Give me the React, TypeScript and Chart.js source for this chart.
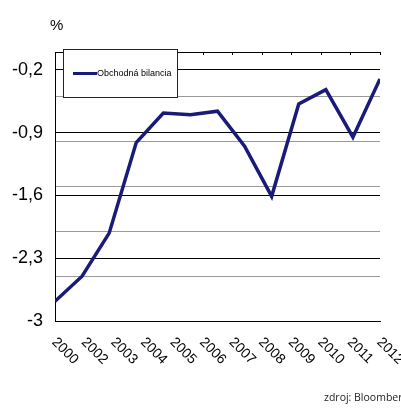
import React, { useEffect, useRef } from 'react';
import { Chart, registerables } from 'chart.js';

Chart.register(...registerables);

// ---- data ----
const dataYears = [2000, 2001, 2002, 2003, 2004, 2005, 2006, 2007, 2008, 2009, 2010, 2011, 2012];
const balance = [-2.78, -2.5, -2.02, -1.01, -0.68, -0.7, -0.66, -1.05, -1.61, -0.58, -0.42, -0.95, -0.3];
const xLabels = ['2000', '2002', '2003', '2004', '2005', '2006', '2007', '2008', '2009', '2010', '2011', '2012'];
const yTicks = [-3, -2.3, -1.6, -0.9, -0.2];
const yMin = -3;
const yMax = 0;
const minorStep = 0.5;
const seriesLabel = 'Obchodná bilancia';
const unitLabel = '%';
const sourceLabel = 'zdroj: Bloomberg';

const LINE_COLOR = '#1a1a78';
const FONT = '"Liberation Sans", Arial, sans-serif';

const decor = {
  id: 'decor',
  afterDraw(chart: any) {
    const { ctx, chartArea } = chart;
    const xs = chart.scales.x;
    ctx.save();
    // inward tick marks on top border
    ctx.strokeStyle = '#000';
    ctx.lineWidth = 1;
    xLabels.forEach((_, i) => {
      const px = Math.round(xs.getPixelForTick(i)) + 0.5;
      ctx.beginPath();
      ctx.moveTo(px, chartArea.top);
      ctx.lineTo(px, chartArea.top + 3);
      ctx.stroke();
    });
    // rotated x labels (reading down-right)
    ctx.fillStyle = '#000';
    ctx.font = '14px ' + FONT;
    ctx.textAlign = 'left';
    ctx.textBaseline = 'middle';
    xLabels.forEach((lab, i) => {
      const px = xs.getPixelForTick(i);
      ctx.save();
      ctx.translate(px - 1, chartArea.bottom + 19);
      ctx.rotate(Math.PI / 4);
      ctx.fillText(lab, 0, 0);
      ctx.restore();
    });
    // unit label
    ctx.font = '15px ' + FONT;
    ctx.textBaseline = 'alphabetic';
    ctx.fillText(unitLabel, chartArea.left - 5, chartArea.top - 22);
    // legend box
    const lx = chartArea.left + 8;
    const ly = chartArea.top - 3;
    const lw = 114;
    const lh = 48;
    ctx.fillStyle = '#fff';
    ctx.fillRect(lx, ly, lw, lh);
    ctx.strokeStyle = '#222';
    ctx.lineWidth = 1;
    ctx.strokeRect(Math.round(lx) + 0.5, Math.round(ly) + 0.5, lw, lh);
    const my = ly + 24.5;
    ctx.strokeStyle = LINE_COLOR;
    ctx.lineWidth = 3;
    ctx.beginPath();
    ctx.moveTo(lx + 10, my);
    ctx.lineTo(lx + 34, my);
    ctx.stroke();
    ctx.fillStyle = '#000';
    ctx.font = '9px ' + FONT;
    ctx.textBaseline = 'middle';
    ctx.fillText(seriesLabel, lx + 34, my);
    // source
    ctx.fillStyle = '#222';
    ctx.font = '10.5px "Open Sans", sans-serif';
    ctx.textBaseline = 'alphabetic';
    ctx.fillText(sourceLabel, 324, 401);
    ctx.restore();
  },
};

export default function App() {
  const ref = useRef<HTMLCanvasElement | null>(null);
  useEffect(() => {
    document.body.style.margin = '0';
    const canvas = ref.current;
    if (!canvas) return;
    const chart = new Chart(canvas, {
      type: 'line',
      data: {
        datasets: [
          {
            label: seriesLabel,
            data: dataYears.map((yr, i) => ({ x: yr, y: balance[i] })),
            xAxisID: 'xd',
            yAxisID: 'y',
            borderColor: LINE_COLOR,
            backgroundColor: LINE_COLOR,
            borderWidth: 3.5,
            pointRadius: 0,
            tension: 0,
            fill: false,
          },
        ],
      },
      options: {
        responsive: false,
        animation: false,
        devicePixelRatio: 1,
        layout: { padding: { left: 0, right: 21, top: 0, bottom: 0 } },
        plugins: {
          legend: { display: false },
          tooltip: { enabled: false },
          title: { display: false },
        },
        scales: {
          xd: {
            type: 'linear',
            display: false,
            min: dataYears[0],
            max: dataYears[dataYears.length - 1],
          },
          x: {
            type: 'category',
            labels: xLabels,
            position: 'bottom',
            offset: false,
            grid: { display: false, drawTicks: false },
            border: { display: true, color: '#000', width: 1 },
            ticks: { display: false },
            afterFit: (s: any) => {
              s.height = 87;
            },
          },
          xTop: {
            type: 'category',
            labels: xLabels,
            position: 'top',
            offset: false,
            grid: { display: false, drawTicks: false },
            border: { display: true, color: '#000', width: 1 },
            ticks: { display: false },
            afterFit: (s: any) => {
              s.height = 52;
            },
          },
          y: {
            type: 'linear',
            position: 'left',
            min: yMin,
            max: yMax,
            afterBuildTicks: (s: any) => {
              s.ticks = yTicks.map((v) => ({ value: v }));
            },
            grid: { color: '#000', lineWidth: 1, drawTicks: false },
            border: { display: true, color: '#000', width: 1 },
            ticks: {
              padding: 12,
              color: '#000',
              font: { family: FONT, size: 18 },
              callback: (v: any) => String(Math.round(Number(v) * 10) / 10).replace('.', ','),
            },
            afterFit: (s: any) => {
              s.width = 55;
            },
          },
          y2: {
            type: 'linear',
            position: 'left',
            min: yMin,
            max: yMax,
            ticks: { display: false, stepSize: minorStep },
            grid: {
              drawTicks: false,
              lineWidth: 1,
              color: (c: any) =>
                c.tick && (c.tick.value <= yMin || c.tick.value >= yMax) ? 'rgba(0,0,0,0)' : '#9a9a9a',
            },
            border: { display: false },
            afterFit: (s: any) => {
              s.width = 0;
            },
          },
        },
      },
      plugins: [decor],
    });
    return () => chart.destroy();
  }, []);
  return (
    <div style={{ width: 401, height: 408, background: '#fff' }}>
      <canvas ref={ref} width={401} height={408} style={{ display: 'block' }} />
    </div>
  );
}
